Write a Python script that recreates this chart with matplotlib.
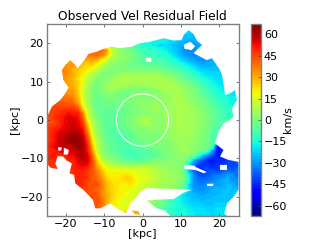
import numpy as np
import matplotlib
matplotlib.use("Agg")
import matplotlib.pyplot as plt
from matplotlib.patches import Circle
from matplotlib.path import Path

o = np.nan  # no reading in this cell

# velocity residual in km/s on a 1.25 kpc grid
# each row: first filled column, then values going right (top row first)
row_0 = (29, [-22, -22])
row_1 = (28, [-24, -24, -24, -24])
row_2 = (20, [-17, -17, -18, -18, -18, -20, -22, -24, -25, -27, -28, o, -28])
row_3 = (13, [10, 6, 2, 0, -3, -8, -12, -15, -16, -18, -20, -20, -22, -24, -26, -28, -30, o, o, -28])
row_4 = (11, [40, 33, 13, 6, 2, 0, -2, -5, -8, -10, -12, -13, -15, -17, -20, -23, -26, -30, -32, -30, -30, -25])
row_5 = (9, [38, 40, 36, 25, 12, 6, 3, 2, 0, -3, -6, -8, -10, -11, -12, -14, -16, -20, -24, -28, -30, -32, -30, -28, -26])
row_6 = (2, [36, o, 34, 32, o, o, 30, 32, 28, 20, 13, 7, 4, 3, 2, 0, -3, -5, -5, o, -7, -8, -10, -12, -15, -18, -22, -26, -28, -30, -30, -28, -27, -24])
row_7 = (3, [36, 32, 34, 30, 26, 24, 25, 18, 12, 6, 3, 2, 0, 0, -2, -4, -4, -4, -5, -5, -6, -7, -9, -11, -13, -16, -19, -22, -25, -27, -27, -26, -25, -22])
row_8 = (3, [36, 33, 28, 26, 24, 20, 15, 10, 5, 2, 0, 0, 0, 0, 0, 1, 1, 0, 0, 0, -1, -3, -4, -6, -8, -11, -14, -17, -20, -22, -23, -24, -24, -22])
row_9 = (3, [35, 33, 30, 25, 20, 14, 9, 4, 1, 0, 1, 3, 5, 5, 6, 6, 6, 6, 6, 5, 4, 3, 1, 0, -3, -6, -9, -12, -15, -18, -20, -21, -22, -22])
row_10 = (4, [31, 28, 23, 16, 10, 5, 1, 0, 3, 5, 7, 8, 8, 8, 8, 8, 8, 8, 8, 7, 6, 5, 3, 0, -2, -5, -8, -11, -14, -17, -19, -20, -21])
row_11 = (5, [30, 24, 16, 8, 2, 0, 2, 5, 7, 8, 8, 7, 6, 6, 6, 6, 7, 8, 8, 8, 7, 6, 4, 2, 0, -3, -6, -10, -13, -16, -18, -20, -18])
row_12 = (5, [31, 25, 14, 5, 0, -2, 1, 4, 6, 5, 3, 2, 0, 0, 1, 2, 3, 4, 5, 7, 8, 7, 6, 4, 1, 0, -3, -7, -10, -13, -16, -18, -20, -22])
row_13 = (5, [33, 25, 13, 5, 0, -2, 0, 2, 2, 0, -2, -1, 0, 0, 0, 1, 1, 2, 3, 4, 6, 8, 8, 5, 3, 1, -1, -4, -8, -11, -14, -16, -18, -20])
row_14 = (4, [38, 36, 28, 15, 5, 0, -3, -2, -1, 0, 0, -1, 0, 0, 0, 2, 1, 2, 2, 3, 4, 5, 7, 8, 6, 4, 2, 0, -2, -6, -9, -12, -14, -16, -18])
row_15 = (2, [43, 42, 42, 40, 32, 17, 6, 0, -3, -4, -2, -2, -2, -1, 0, 0, 2, 3, 3, 4, 5, 4, 4, 5, 6, 8, 7, 5, 3, 1, 0, -3, -6, -9, -12, -14])
row_16 = (1, [45, 45, 46, 46, 46, 42, 22, 9, 2, -3, -4, -4, -4, -4, -3, -3, -1, 0, 2, 2, 4, 5, 4, 4, 5, 6, 8, 8, 6, 5, 3, 1, -1, -4, -7, -10, -12])
row_17 = (0, [44, 46, 48, 50, 52, 50, 50, 36, 12, 4, -2, -4, -5, -5, -4, -3, -2, 0, 1, 2, 3, 4, 4, 4, 5, 5, 6, 8, 8, 7, 5, 4, 2, 0, -3, -6, -9])
row_18 = (0, [44, 47, 50, 52, 55, 54, 52, 42, 16, 6, 0, -4, -6, -6, -5, -3, -1, 0, 2, 3, 4, 5, 4, 3, 4, 5, 6, 8, 8, 7, 5, 4, 2, 0, -3, -6])
row_19 = (0, [42, 45, 48, 52, 55, 56, 54, 46, 23, 8, 1, -3, -6, -6, -6, -3, -1, 0, 2, 6, 12, 5, 4, 3, 4, 5, 6, 8, 8, 7, 5, 4, 2, 0, -3, -6])
row_20 = (0, [46, 48, 50, 54, 56, 58, 56, 50, 30, 11, 3, -2, -6, -6, -6, -4, -2, 0, 1, 2, 2, 3, 3, 2, 3, 5, 6, 8, 8, 7, 5, 4, 2, 0, -4, -7])
row_21 = (0, [47, 50, 54, 56, 58, 60, 60, 54, 36, 14, 4, -1, -5, -6, -7, -6, -4, -2, 0, 1, 2, 2, 2, 2, 2, 4, 5, 7, 7, 6, 5, 3, 1, -1, -5, -8, -10])
row_22 = (0, [48, 52, 56, 58, 62, 64, 62, 58, 42, 18, 6, 0, -4, -6, -7, -7, -7, -5, -2, 0, 0, 1, 1, 1, 2, 3, 5, 6, 6, 5, 4, 2, 1, -2, -6, -9])
row_23 = (0, [48, 52, 57, 60, 62, 64, 64, 60, 46, 22, 8, 2, -3, -5, -7, -7, -6, -4, -3, -2, -1, 0, 0, 1, 1, 2, 4, 5, 6, 5, 4, 2, 0, -2, -6])
row_24 = (0, [50, 54, o, 58, 56, 60, 64, 62, 50, 28, 10, 3, -2, -4, -6, -8, -8, -7, -6, -4, -3, -2, -1, 0, 1, 2, 3, 5, 5, 5, 3, 1, 0, -3])
row_25 = (0, [48, 50, 52, o, o, 56, 60, 60, 52, 34, 12, 4, -1, -3, -6, -8, -9, -9, -8, -7, -6, -5, -3, -2, 0, 1, 2, 4, 5, 4, 2, 0, -3, -8, -30, -48, -45])
row_26 = (0, [50, 52, 48, o, o, 52, 58, 60, 56, 40, 18, 7, 1, -1, -3, -6, -8, -9, -9, -8, -7, -6, -5, -3, -1, 1, 2, 3, 3, 2, -2, -12, -25, -35, -40, -48, -45, -40])
row_27 = (0, [46, 50, 48, o, o, 50, 54, 58, 56, 44, 26, 13, 7, 3, 1, -1, -3, -5, -6, -5, -3, -2, 0, 1, 1, 2, 2, 2, 1, -5, -25, -35, -40, -45, -48, -45, o, -42, -40, -38])
row_28 = (1, [48, 46, o, o, o, 52, 54, 52, 44, 30, 20, 14, 11, 9, 8, 7, 7, 7, 7, 8, 7, 6, 5, 4, 4, 3, 2, -2, -20, -35, -42, -44, -42, -45, -42, -40, -40, -42, -40])
row_29 = (5, [48, 50, 50, 46, 42, 36, 26, 20, 18, 18, 18, 17, 16, 16, 15, 14, 12, 9, 7, 5, 4, o, o, o, -25, -35, o, -42, -40, -38, o, -38, -35, -38, -35])
row_30 = (6, [50, 50, 46, 42, 38, 30, 22, 20, 20, 22, 24, 22, 18, 16, 15, 13, 11, 9, 7, 6, 5, 4, 0, -15, -30, -38, -40, -38, -35, -33, -32, -30, -30])
row_31 = (6, [50, 48, 46, 42, 40, 34, 26, 22, 22, 22, 24, 25, 20, 17, 16, 14, 11, 9, 7, 6, 5, 3, 0, -12, -30, -35, -36, -35, -32, -30, -28, -25])
row_32 = (8, [44, 42, 44, 36, 28, 24, 22, 20, 20, 22, 18, 14, 12, 10, 8, 6, 5, 5, 4, 2, -5, -20, -30, -32, -32, -30, -28, -28])
row_33 = (9, [42, 40, 36, 28, 24, 22, 20, 19, 18, 15, o, o, o, o, o, o, o, o, o, o, o, -28, -30, -30, -28, -27, -26, -25])
row_34 = (9, [44, 42, 34, 30, 26, 22, 20, 18, 16, 14, o, o, o, o, o, o, o, o, o, o, o, -25, -27, -28, -27, -26, -25])
row_35 = (10, [44, 38, 30, 24, 20, 18, 16, o, o, o, o, 6, 4, o, o, o, -12, -16, -20, -22, -24, -25, -26, -25, -24])
row_36 = (10, [42, 38, 30, 22, 20, 16, o, o, o, o, o, o, 0, -2, -4, -8, -14, -16, -18, -20, -22, -22, -23, -24, -24, -22])
row_37 = (13, [20, 18, 16, o, o, o, o, o, o, o, -5, -8, -12, -14, -16, -16, -18, -20, -20, -20, -22, -22, -20])
row_38 = (17, [32, 30, o, o, o, o, o, o, o, -14, -16, -14, o, -18, -20, o, -20, o, o, -20])

rows = [row_0, row_1, row_2, row_3, row_4, row_5, row_6, row_7, row_8, row_9,
        row_10, row_11, row_12, row_13, row_14, row_15, row_16, row_17, row_18, row_19,
        row_20, row_21, row_22, row_23, row_24, row_25, row_26, row_27, row_28, row_29,
        row_30, row_31, row_32, row_33, row_34, row_35, row_36, row_37, row_38]

# edge of the observed field in kpc, traced clockwise from the left side
edge_x = [-25.0, -23.6, -21.4, -20.1, -19.3, -20.6, -21.0, -20.1, -18.8, -17.5, -16.9, -15.4, -14.1, -11.9,
          -10.2, -8.0, -5.8, -2.8, -0.6, 2.0, 5.5, 8.1, 10.2, 10.7, 12.0, 13.3, 14.1, 15.5, 14.6, 13.3, 15.0,
          16.8, 18.1, 20.2, 20.7, 21.1, 21.5, 22.8, 24.1, 24.6, 23.3, 23.7, 22.8, 21.1, 19.8, 18.9, 21.1, 20.2,
          22.4, 25.0, 25.0, 23.7, 22.0, 21.3, 22.1, 7.2, 5.9, 3.7, 1.1, 4.6, 8.1, 10.7, 12.8, 9.8, 5.5, 1.1,
          -0.6, -1.5, -3.2, -4.3, -6.7, -8.4, -11.0, -12.3, -12.9, -14.1, -15.4, -17.5, -17.8, -19.0, -18.4,
          -19.7, -20.7, -22.1, -22.7, -22.1, -24.0, -25.0]
edge_y = [0.4, 3.5, 5.2, 6.9, 8.5, 10.4, 13.0, 14.3, 15.6, 14.3, 13.5, 15.2, 17.2, 17.8,
          18.5, 19.1, 18.7, 19.1, 20.0, 20.4, 21.3, 20.7, 20.8, 22.1, 23.4, 22.4, 20.8, 19.5, 18.7, 17.4, 16.5,
          15.6, 16.1, 13.0, 11.7, 9.5, 6.5, 6.9, 7.8, 5.2, 3.0, 0.9, 0.0, -0.9, -3.0, -6.1, -7.8, -9.5,
          -10.4, -10.9, -18.2, -20.0, -21.7, -24.3, -25.0, -25.0, -23.6, -23.0, -21.0, -20.7, -20.6, -18.9, -18.2, -18.0, -17.9, -17.7,
          -18.7, -20.0, -21.7, -24.3, -23.0, -21.7, -23.0, -23.0, -20.8, -19.5, -18.2, -16.5, -14.3, -13.9, -11.3,
          -10.6, -9.5, -9.4, -11.3, -12.8, -12.4, -11.3]

# small orange patch under the body and the white holes inside the field
patch_x = [-2.8, -1.0, -0.6, -2.0]
patch_y = [-23.5, -23.8, -24.7, -24.5]
holes_x = [[0.9, 2.3, 2.3, 0.9],
           [10.7, 12.5, 13.7, 12.8, 11.0],
           [10.7, 13.7, 13.7, 11.0],
           [13.7, 16.7, 16.0, 13.7],
           [-21.9, -21.0, -21.2, -22.0],
           [-20.5, -19.2, -19.4, -20.5],
           [16.8, 18.4, 18.4, 16.8],
           [20.2, 22.0, 22.0, 20.2]]
holes_y = [[16.2, 16.2, 15.2, 15.2],
           [19.6, 20.4, 19.2, 18.2, 18.5],
           [-11.7, -11.9, -13.0, -12.8],
           [-12.2, -13.5, -13.9, -13.0],
           [-7.0, -7.2, -8.0, -7.9],
           [-7.2, -7.8, -9.0, -9.0],
           [-16.6, -16.6, -17.2, -17.2],
           [-11.7, -11.7, -13.0, -13.0]]

x_ticks = [-20, -10, 0, 10, 20]
y_ticks = [-20, -10, 0, 10, 20]
cbar_ticks = [-60, -45, -30, -15, 0, 15, 30, 45, 60]


def ring(xs, ys, ccw=False):
    # closed polygon, holes have to run the other way round
    pts = list(zip(xs, ys))
    if ccw:
        pts = pts[::-1]
    codes = [Path.MOVETO] + [Path.LINETO] * (len(pts) - 1) + [Path.CLOSEPOLY]
    return pts + [pts[0]], codes


# the top grid row is empty, rows above start one cell down
grid = np.full((40, 40), np.nan)
for r, (start, vals) in enumerate(rows):
    grid[r + 1, start:start + len(vals)] = vals

# blank cells take their closest reading, the clip path below cuts the real edge
have_r, have_c = np.where(~np.isnan(grid))
for r, c in zip(*np.where(np.isnan(grid))):
    k = np.argmin((have_r - r) ** 2 + (have_c - c) ** 2)
    grid[r, c] = grid[have_r[k], have_c[k]]

verts, codes = ring(edge_x, edge_y)
v, cd = ring(patch_x, patch_y)
verts += v
codes += cd
for hx, hy in zip(holes_x, holes_y):
    # edge is clockwise, so holes go counter clockwise; area sign decides
    area = sum(hx[i] * hy[(i + 1) % len(hx)] - hx[(i + 1) % len(hx)] * hy[i] for i in range(len(hx)))
    v, cd = ring(hx, hy, ccw=area < 0)
    verts += v
    codes += cd
field_path = Path(verts, codes)

fig = plt.figure(figsize=(3.2, 2.4), dpi=100)
ax = fig.add_axes([46.5 / 320, 24 / 240, 192 / 320, 192 / 240])
cax = fig.add_axes([251 / 320, 24 / 240, 10 / 320, 192 / 240])

im = ax.imshow(grid, cmap=plt.get_cmap("jet", 64), vmin=-67, vmax=67,
               extent=[-25, 25, -25, 25], origin="upper", interpolation="bilinear", aspect="auto")
im.set_clip_path(field_path, transform=ax.transData)
ax.add_patch(Circle((0, 0), 6.8, fill=False, edgecolor="white", linewidth=0.7))

ax.set_xlim(-25, 25)
ax.set_ylim(-25, 25)
ax.set_xticks(x_ticks)
ax.set_yticks(y_ticks)
ax.tick_params(direction="in", length=2, width=0.5, top=True, right=True, labelsize=8,
               color="#444444", pad=2)
ax.set_title("Observed Vel Residual Field", fontsize=8.8, pad=3)
ax.set_xlabel("[kpc]", fontsize=8, labelpad=0)
ax.set_ylabel("[kpc]", fontsize=8, labelpad=0)

cb = fig.colorbar(im, cax=cax, ticks=cbar_ticks)
cb.ax.tick_params(direction="in", length=2, width=0.5, labelsize=8, color="#444444", pad=2)
cb.set_label("km/s", fontsize=8, labelpad=-3)

for spine in ax.spines.values():
    spine.set_color("#808080")
    spine.set_linewidth(1.0)
cb.outline.set_edgecolor("#808080")
cb.outline.set_linewidth(1.0)

fig.savefig("out.png", dpi=100)
